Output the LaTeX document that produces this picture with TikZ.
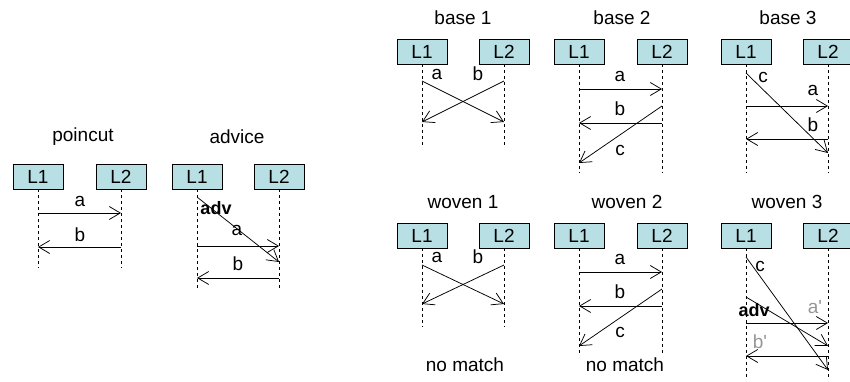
\documentclass[tikz,border=0pt]{standalone}
\usepackage{fontspec}
\setmainfont{Liberation Sans}
\usetikzlibrary{arrows.meta}

\definecolor{lanefill}{RGB}{184,224,228}
\definecolor{primegray}{RGB}{150,150,150}

\tikzset{
  lane/.style={draw=black, fill=lanefill, line width=0.7pt, minimum width=50pt,
               minimum height=25pt, inner sep=0pt, font=\fontsize{19}{22}\selectfont},
  life/.style={draw=black, line width=0.7pt, dash pattern=on 3pt off 3pt},
  msg/.style={draw=black, line width=0.75pt, -{Straight Barb[length=11pt,width=13pt,line width=0.75pt]}},
  lbl/.style={inner sep=0pt, font=\fontsize{19}{22}\selectfont},
  advlbl/.style={lbl, font=\fontsize{18}{22}\selectfont\bfseries},
  primelbl/.style={lbl, text=primegray},
  title/.style={inner sep=0pt, font=\fontsize{19}{22}\selectfont},
}

% two lanes with their dashed lifelines:
% #1 prefix, #2 x of L1, #3 x of L2, #4 y of the boxes, #5 y where the lifelines end
\newcommand{\lanepair}[5]{%
  \node[lane] (#1L1) at (#2,#4) {L1};
  \node[lane] (#1L2) at (#3,#4) {L2};
  \coordinate (#1e1) at (#2,#5);
  \coordinate (#1e2) at (#3,#5);
  \draw[life] (#1L1.south) -- (#1e1);
  \draw[life] (#1L2.south) -- (#1e2);
}

\begin{document}
\begin{tikzpicture}[x=1pt, y=-1pt]
\useasboundingbox (0,0) rectangle (850,382);

% ---------- poincut ----------
\node[title] (tP) at (83,137) {poincut};
\lanepair{P}{38}{121}{176.5}{268}
\coordinate (Pa1) at (38,213);  \coordinate (Pa2) at (121,213);
\coordinate (Pb1) at (121,247); \coordinate (Pb2) at (38,247);
\draw[msg] (Pa1) -- (Pa2);
\draw[msg] (Pb1) -- (Pb2);
\node[lbl] (Pla) at (80,201) {a};
\node[lbl] (Plb) at (80,235) {b};

% ---------- advice ----------
\node[title] (tA) at (237,137) {advice};
\lanepair{A}{197}{279}{176.5}{288}
\coordinate (Ad1) at (197,197); \coordinate (Ad2) at (279,262);
\coordinate (Aa1) at (197,246); \coordinate (Aa2) at (279,246);
\coordinate (Ab1) at (279,278); \coordinate (Ab2) at (197,278);
\draw[msg] (Ad1) -- (Ad2);
\draw[msg] (Aa1) -- (Aa2);
\draw[msg] (Ab1) -- (Ab2);
\node[advlbl] (Ald) at (216,208) {adv};
\node[lbl] (Ala) at (237,230) {a};
\node[lbl] (Alb) at (238,264) {b};

% ---------- base 1 ----------
\node[title] (tB1) at (463,18) {base 1};
\lanepair{Ba}{422}{504}{51.5}{145}
\coordinate (Baa1) at (422,81);  \coordinate (Baa2) at (504,122);
\coordinate (Bab1) at (504,81);  \coordinate (Bab2) at (422,122);
\draw[msg] (Baa1) -- (Baa2);
\draw[msg] (Bab1) -- (Bab2);
\node[lbl] (Bala) at (437,74) {a};
\node[lbl] (Balb) at (478,74) {b};

% ---------- base 2 ----------
\node[title] (tB2) at (622,18) {base 2};
\lanepair{Bb}{579}{662}{51.5}{173}
\coordinate (Bba1) at (579,89);  \coordinate (Bba2) at (662,89);
\coordinate (Bbb1) at (662,123); \coordinate (Bbb2) at (579,123);
\coordinate (Bbc1) at (662,106); \coordinate (Bbc2) at (579,163);
\draw[msg] (Bba1) -- (Bba2);
\draw[msg] (Bbb1) -- (Bbb2);
\draw[msg] (Bbc1) -- (Bbc2);
\node[lbl] (Bbla) at (620,76) {a};
\node[lbl] (Bblb) at (620,109) {b};
\node[lbl] (Bblc) at (620,150) {c};

% ---------- base 3 ----------
\node[title] (tB3) at (788,18) {base 3};
\lanepair{Bc}{746}{828}{51.5}{173}
\coordinate (Bcc1) at (746,73);  \coordinate (Bcc2) at (828,153);
\coordinate (Bca1) at (746,106); \coordinate (Bca2) at (828,106);
\coordinate (Bcb1) at (828,139); \coordinate (Bcb2) at (746,139);
\draw[msg] (Bcc1) -- (Bcc2);
\draw[msg] (Bca1) -- (Bca2);
\draw[msg] (Bcb1) -- (Bcb2);
\node[lbl] (Bclc) at (763,77) {c};
\node[lbl] (Bcla) at (813,90) {a};
\node[lbl] (Bclb) at (813,125) {b};

% ---------- woven 1 ----------
\node[title] (tW1) at (463,202) {woven 1};
\lanepair{Wa}{422}{504}{235.5}{327}
\coordinate (Waa1) at (422,265); \coordinate (Waa2) at (504,304);
\coordinate (Wab1) at (504,265); \coordinate (Wab2) at (422,304);
\draw[msg] (Waa1) -- (Waa2);
\draw[msg] (Wab1) -- (Wab2);
\node[lbl] (Wala) at (437,257) {a};
\node[lbl] (Walb) at (478,257) {b};
\node[title] (nmW1) at (465,365) {no match};

% ---------- woven 2 ----------
\node[title] (tW2) at (627,202) {woven 2};
\lanepair{Wb}{579}{662}{235.5}{355}
\coordinate (Wba1) at (579,272); \coordinate (Wba2) at (662,272);
\coordinate (Wbb1) at (662,306); \coordinate (Wbb2) at (579,306);
\coordinate (Wbc1) at (662,289); \coordinate (Wbc2) at (579,346);
\draw[msg] (Wba1) -- (Wba2);
\draw[msg] (Wbb1) -- (Wbb2);
\draw[msg] (Wbc1) -- (Wbc2);
\node[lbl] (Wbla) at (620,259) {a};
\node[lbl] (Wblb) at (620,292) {b};
\node[lbl] (Wblc) at (620,332) {c};
\node[title] (nmW2) at (625,365) {no match};

% ---------- woven 3 ----------
\node[title] (tW3) at (787,202) {woven 3};
\lanepair{Wc}{746}{828}{235.5}{380}
\coordinate (Wcc1) at (746,257); \coordinate (Wcc2) at (828,370);
\coordinate (Wcd1) at (746,297); \coordinate (Wcd2) at (828,346);
\coordinate (Wca1) at (746,323); \coordinate (Wca2) at (828,323);
\coordinate (Wcb1) at (828,356); \coordinate (Wcb2) at (746,356);
\draw[msg] (Wcc1) -- (Wcc2);
\draw[msg] (Wcd1) -- (Wcd2);
\draw[msg] (Wca1) -- (Wca2);
\draw[msg] (Wcb1) -- (Wcb2);
\node[lbl] (Wclc) at (760,266) {c};
\node[advlbl] (Wcld) at (754,310) {adv};
\node[primelbl] (Wcla) at (815,307) {a\textquotesingle};
\node[primelbl] (Wclb) at (760,342) {b\textquotesingle};
\end{tikzpicture}
\end{document}
